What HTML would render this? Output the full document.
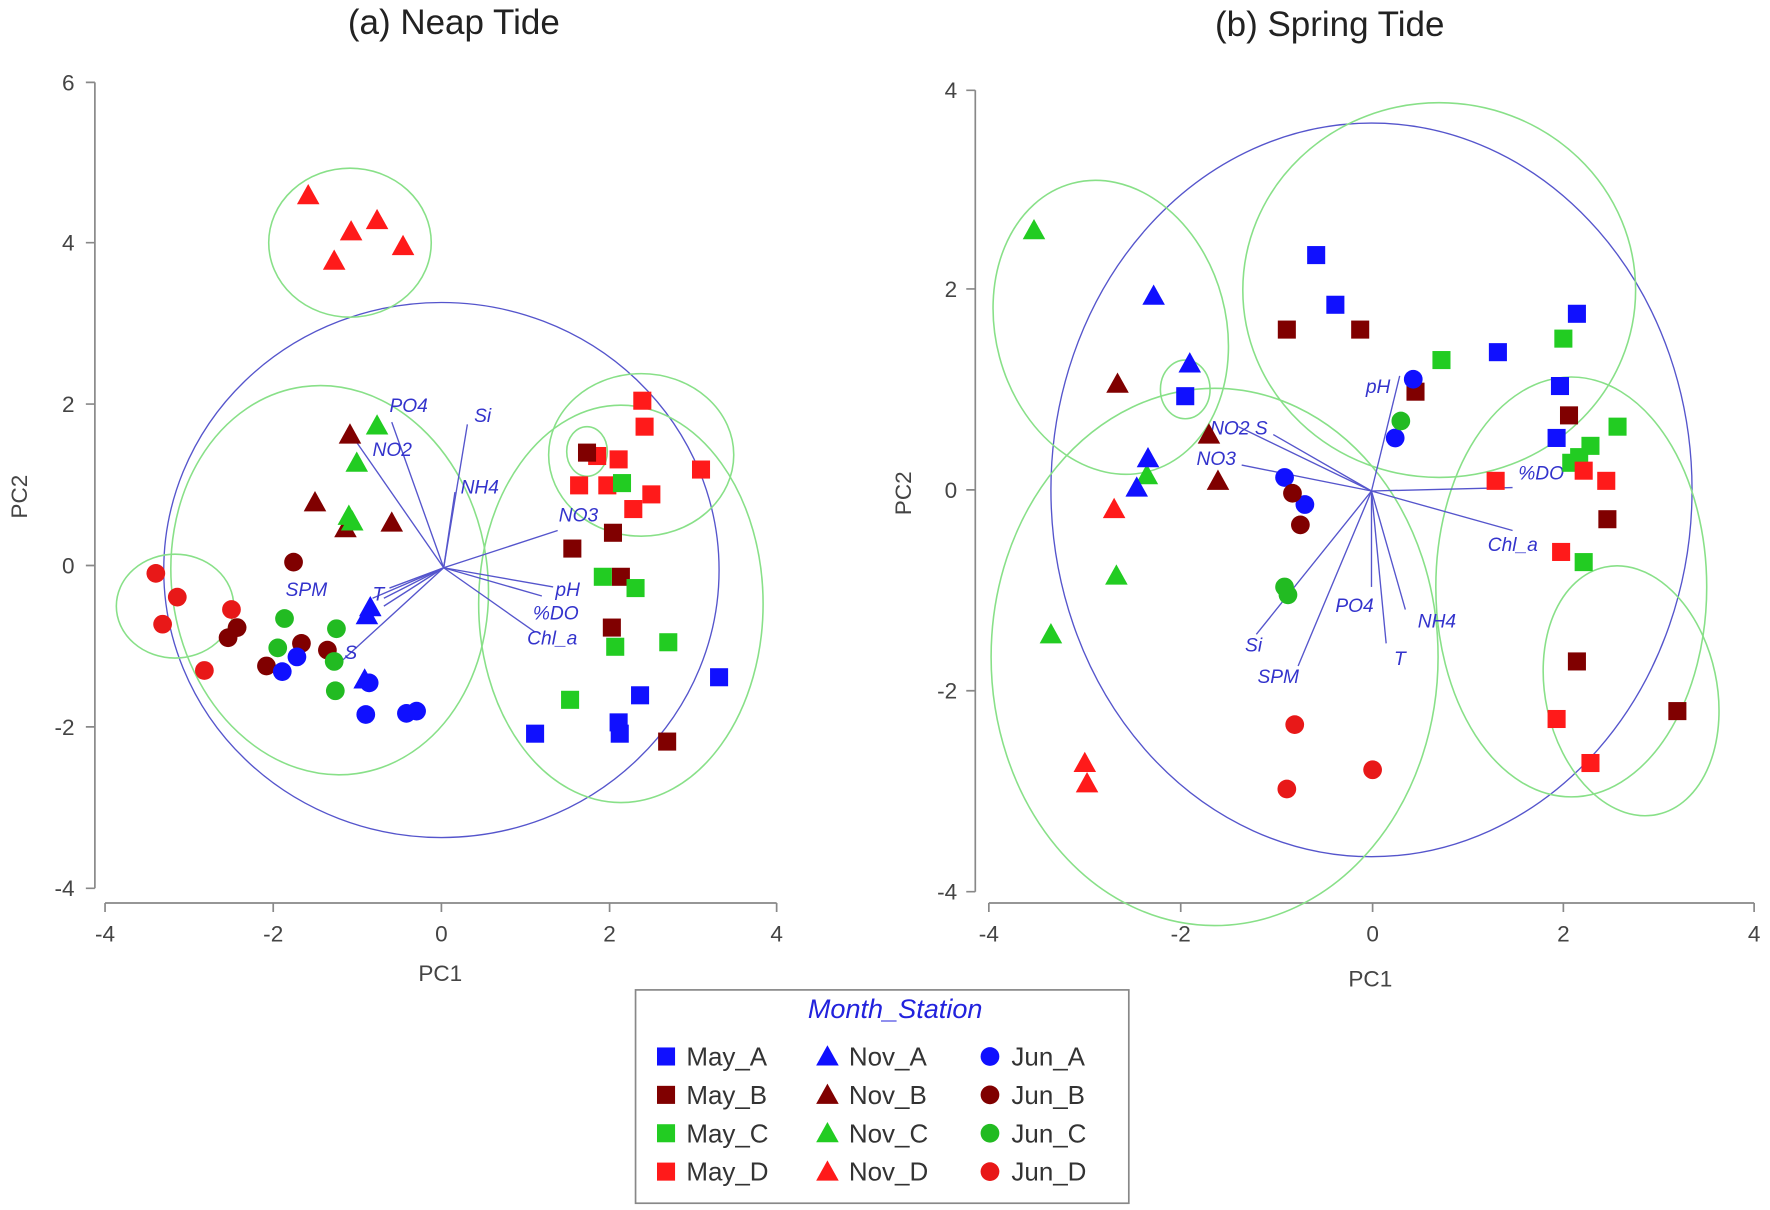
<!DOCTYPE html>
<html><head><meta charset="utf-8"><style>
html,body{margin:0;padding:0;background:#fff;width:1770px;height:1210px;overflow:hidden}
svg{display:block}
text{font-family:"Liberation Sans",sans-serif}
.t{font-size:20px;fill:#444}
.v{font-size:17px;fill:#3333cc;font-style:italic}
.g{fill:none;stroke:#88e088;stroke-width:1.4}
.b{fill:none;stroke:#5555cc;stroke-width:1.2}
.ar{stroke:#5555cc;stroke-width:1.2}
.ax{stroke:#888;stroke-width:1.5;fill:none}
</style></head><body>
<svg width="1770" height="1210" viewBox="0 0 1568 1072" xmlns="http://www.w3.org/2000/svg">
<defs>
<g id="sq"><rect x="-8" y="-8" width="16" height="16"/></g>
<g id="ci"><circle r="8.3"/></g>
<g id="tr"><polygon points="0,-10 10,8 -10,8"/></g>
</defs>
<!-- titles -->
<text x="402" y="30" font-size="31" text-anchor="middle" fill="#222">(a) Neap Tide</text>
<text x="1178" y="32" font-size="31" text-anchor="middle" fill="#222">(b) Spring Tide</text>

<!-- Panel a axes -->
<path class="ax" d="M84,73V787 M76,73H84 M76,215H84 M76,358H84 M76,501H84 M76,644H84 M76,787H84"/>
<g class="t" text-anchor="end"><text x="66" y="80">6</text><text x="66" y="222">4</text><text x="66" y="365">2</text><text x="66" y="508">0</text><text x="66" y="651">-2</text><text x="66" y="794">-4</text></g>
<path class="ax" d="M93,800H688 M93,800V808 M242,800V808 M391,800V808 M540,800V808 M688,800V808"/>
<g class="t" text-anchor="middle"><text x="93" y="834">-4</text><text x="242" y="834">-2</text><text x="391" y="834">0</text><text x="540" y="834">2</text><text x="688" y="834">4</text></g>
<text class="t" x="390" y="869" text-anchor="middle">PC1</text>
<text class="t" x="24" y="440" text-anchor="middle" transform="rotate(-90 24 440)">PC2</text>

<!-- Panel a ellipses -->
<ellipse class="b" cx="391" cy="505" rx="246" ry="237"/>
<ellipse class="g" cx="310" cy="215" rx="72" ry="66"/>
<ellipse class="g" cx="155" cy="537" rx="52" ry="46"/>
<ellipse class="g" cx="292" cy="514" rx="140" ry="173" transform="rotate(-8 292 514)"/>
<ellipse class="g" cx="550" cy="535" rx="126" ry="176"/>
<ellipse class="g" cx="568" cy="403" rx="82" ry="72"/>
<ellipse class="g" cx="520" cy="400" rx="18" ry="22"/>

<!-- Panel a vectors -->
<g class="ar">
<line x1="393" y1="503" x2="347" y2="374"/><line x1="393" y1="503" x2="414" y2="376"/>
<line x1="393" y1="503" x2="316" y2="392"/><line x1="393" y1="503" x2="403" y2="436"/>
<line x1="393" y1="503" x2="494" y2="470"/><line x1="393" y1="503" x2="490" y2="520"/>
<line x1="393" y1="503" x2="480" y2="528"/><line x1="393" y1="503" x2="474" y2="560"/>
<line x1="393" y1="503" x2="345" y2="521"/><line x1="393" y1="503" x2="330" y2="530"/>
<line x1="393" y1="503" x2="340" y2="530"/><line x1="393" y1="503" x2="340" y2="537"/>
<line x1="393" y1="503" x2="300" y2="588"/>
</g>
<g class="v">
<text x="345" y="365">PO4</text><text x="420" y="374">Si</text><text x="330" y="404">NO2</text>
<text x="408" y="437">NH4</text><text x="495" y="462">NO3</text><text x="492" y="528">pH</text>
<text x="472" y="549">%DO</text><text x="467" y="571">Chl_a</text><text x="253" y="528">SPM</text>
<text x="330" y="532">T</text><text x="305" y="584">S</text>
</g>

<!-- Panel a points -->
<g fill="#ff1a1a"><use href="#tr" x="273" y="173"/><use href="#tr" x="311" y="205"/><use href="#tr" x="334" y="195"/><use href="#tr" x="357" y="218"/><use href="#tr" x="296" y="231"/></g>
<g fill="#800000"><use href="#tr" x="310" y="385"/><use href="#tr" x="279" y="445"/><use href="#tr" x="306" y="468"/><use href="#tr" x="347" y="463"/></g>
<g fill="#22cc22"><use href="#tr" x="334" y="377"/><use href="#tr" x="316" y="410"/><use href="#tr" x="309" y="457"/><use href="#tr" x="312" y="462"/></g>
<g fill="#1010ff"><use href="#tr" x="325" y="545"/><use href="#tr" x="328" y="538"/><use href="#tr" x="323" y="602"/></g>
<g fill="#800000"><use href="#ci" x="260" y="498"/><use href="#ci" x="210" y="556"/><use href="#ci" x="202" y="565"/><use href="#ci" x="236" y="590"/><use href="#ci" x="267" y="570"/><use href="#ci" x="290" y="576"/></g>
<g fill="#e81818"><use href="#ci" x="138" y="508"/><use href="#ci" x="157" y="529"/><use href="#ci" x="144" y="553"/><use href="#ci" x="205" y="540"/><use href="#ci" x="181" y="594"/></g>
<g fill="#1010ff"><use href="#ci" x="263" y="582"/><use href="#ci" x="250" y="595"/><use href="#ci" x="327" y="605"/><use href="#ci" x="324" y="633"/><use href="#ci" x="360" y="632"/><use href="#ci" x="369" y="630"/></g>
<g fill="#22bb22"><use href="#ci" x="252" y="548"/><use href="#ci" x="246" y="574"/><use href="#ci" x="296" y="586"/><use href="#ci" x="297" y="612"/><use href="#ci" x="298" y="557"/></g>
<g fill="#ff1a1a"><use href="#sq" x="569" y="355"/><use href="#sq" x="571" y="378"/><use href="#sq" x="529" y="404"/><use href="#sq" x="548" y="407"/><use href="#sq" x="513" y="430"/><use href="#sq" x="538" y="430"/><use href="#sq" x="577" y="438"/><use href="#sq" x="561" y="451"/><use href="#sq" x="621" y="416"/></g>
<g fill="#800000"><use href="#sq" x="520" y="401"/><use href="#sq" x="543" y="472"/><use href="#sq" x="507" y="486"/><use href="#sq" x="550" y="511"/><use href="#sq" x="542" y="556"/><use href="#sq" x="591" y="657"/></g>
<g fill="#22cc22"><use href="#sq" x="551" y="428"/><use href="#sq" x="534" y="511"/><use href="#sq" x="563" y="521"/><use href="#sq" x="592" y="569"/><use href="#sq" x="545" y="573"/><use href="#sq" x="505" y="620"/></g>
<g fill="#1010ff"><use href="#sq" x="474" y="650"/><use href="#sq" x="567" y="616"/><use href="#sq" x="548" y="640"/><use href="#sq" x="549" y="650"/><use href="#sq" x="637" y="600"/></g>

<!-- Panel b axes -->
<path class="ax" d="M864,80V790 M856,80H864 M856,256H864 M856,434H864 M856,612H864 M856,790H864"/>
<g class="t" text-anchor="end"><text x="848" y="87">4</text><text x="848" y="263">2</text><text x="848" y="441">0</text><text x="848" y="619">-2</text><text x="848" y="797">-4</text></g>
<path class="ax" d="M876,800H1554 M876,800V808 M1046,800V808 M1216,800V808 M1385,800V808 M1554,800V808"/>
<g class="t" text-anchor="middle"><text x="876" y="834">-4</text><text x="1046" y="834">-2</text><text x="1216" y="834">0</text><text x="1385" y="834">2</text><text x="1554" y="834">4</text></g>
<text class="t" x="1214" y="874" text-anchor="middle">PC1</text>
<text class="t" x="807" y="437" text-anchor="middle" transform="rotate(-90 807 437)">PC2</text>

<!-- Panel b ellipses -->
<ellipse class="b" cx="1215" cy="434" rx="284" ry="325"/>
<ellipse class="g" cx="984" cy="290" rx="102" ry="132" transform="rotate(-15 984 290)"/>
<ellipse class="g" cx="1076" cy="582" rx="198" ry="238"/>
<ellipse class="g" cx="1275" cy="257" rx="174" ry="166"/>
<ellipse class="g" cx="1392" cy="520" rx="120" ry="186"/>
<ellipse class="g" cx="1445" cy="612" rx="76" ry="112" transform="rotate(-12 1445 612)"/>
<ellipse class="g" cx="1050" cy="345" rx="22" ry="26"/>

<!-- Panel b vectors -->
<g class="ar">
<line x1="1215" y1="435" x2="1240" y2="333"/><line x1="1215" y1="435" x2="1097" y2="378"/>
<line x1="1215" y1="435" x2="1128" y2="385"/><line x1="1215" y1="435" x2="1100" y2="412"/>
<line x1="1215" y1="435" x2="1340" y2="432"/><line x1="1215" y1="435" x2="1340" y2="470"/>
<line x1="1215" y1="435" x2="1215" y2="520"/><line x1="1215" y1="435" x2="1245" y2="540"/>
<line x1="1215" y1="435" x2="1228" y2="570"/><line x1="1215" y1="435" x2="1113" y2="562"/>
<line x1="1215" y1="435" x2="1150" y2="590"/>
</g>
<g class="v">
<text x="1210" y="348">pH</text><text x="1072" y="385">NO2 S</text><text x="1060" y="412">NO3</text>
<text x="1345" y="425">%DO</text><text x="1318" y="488">Chl_a</text><text x="1183" y="542">PO4</text>
<text x="1256" y="556">NH4</text><text x="1235" y="589">T</text><text x="1103" y="577">Si</text>
<text x="1114" y="605">SPM</text>
</g>

<!-- Panel b points -->
<g fill="#22cc22"><use href="#tr" x="916" y="204"/><use href="#tr" x="931" y="562"/><use href="#tr" x="989" y="510"/><use href="#tr" x="1016" y="421"/></g>
<g fill="#1010ff"><use href="#tr" x="1022" y="262"/><use href="#tr" x="1054" y="322"/><use href="#tr" x="1017" y="406"/><use href="#tr" x="1007" y="432"/></g>
<g fill="#800000"><use href="#tr" x="990" y="340"/><use href="#tr" x="1071" y="385"/><use href="#tr" x="1079" y="426"/></g>
<g fill="#ff1a1a"><use href="#tr" x="987" y="451"/><use href="#tr" x="961" y="676"/><use href="#tr" x="963" y="694"/></g>
<g fill="#1010ff"><use href="#sq" x="1166" y="226"/><use href="#sq" x="1183" y="270"/><use href="#sq" x="1050" y="351"/><use href="#sq" x="1327" y="312"/><use href="#sq" x="1397" y="278"/><use href="#sq" x="1382" y="342"/><use href="#sq" x="1379" y="388"/></g>
<g fill="#800000"><use href="#sq" x="1140" y="292"/><use href="#sq" x="1205" y="292"/><use href="#sq" x="1254" y="347"/><use href="#sq" x="1390" y="368"/><use href="#sq" x="1424" y="460"/><use href="#sq" x="1397" y="586"/><use href="#sq" x="1486" y="630"/></g>
<g fill="#22cc22"><use href="#sq" x="1277" y="319"/><use href="#sq" x="1385" y="300"/><use href="#sq" x="1433" y="378"/><use href="#sq" x="1409" y="395"/><use href="#sq" x="1399" y="405"/><use href="#sq" x="1403" y="498"/><use href="#sq" x="1392" y="410"/></g>
<g fill="#ff1a1a"><use href="#sq" x="1325" y="426"/><use href="#sq" x="1403" y="417"/><use href="#sq" x="1423" y="426"/><use href="#sq" x="1383" y="489"/><use href="#sq" x="1379" y="637"/><use href="#sq" x="1409" y="676"/></g>
<g fill="#1010ff"><use href="#ci" x="1252" y="336"/><use href="#ci" x="1236" y="388"/><use href="#ci" x="1138" y="423"/><use href="#ci" x="1156" y="447"/></g>
<g fill="#22bb22"><use href="#ci" x="1241" y="373"/><use href="#ci" x="1138" y="520"/><use href="#ci" x="1141" y="527"/></g>
<g fill="#800000"><use href="#ci" x="1145" y="437"/><use href="#ci" x="1152" y="465"/></g>
<g fill="#e81818"><use href="#ci" x="1147" y="642"/><use href="#ci" x="1216" y="682"/><use href="#ci" x="1140" y="699"/></g>

<!-- Legend -->
<rect x="563" y="877" width="437" height="189" fill="#fff" stroke="#888" stroke-width="1.5"/>
<text x="793" y="902" font-size="24" font-style="italic" fill="#2222dd" text-anchor="middle">Month_Station</text>
<g font-size="23" fill="#333">
<use href="#sq" x="590" y="936" fill="#1010ff"/><text x="608" y="944">May_A</text>
<use href="#sq" x="590" y="970" fill="#800000"/><text x="608" y="978">May_B</text>
<use href="#sq" x="590" y="1004" fill="#22cc22"/><text x="608" y="1012">May_C</text>
<use href="#sq" x="590" y="1038" fill="#ff1a1a"/><text x="608" y="1046">May_D</text>
<use href="#tr" x="733" y="936" fill="#1010ff"/><text x="752" y="944">Nov_A</text>
<use href="#tr" x="733" y="970" fill="#800000"/><text x="752" y="978">Nov_B</text>
<use href="#tr" x="733" y="1004" fill="#22cc22"/><text x="752" y="1012">Nov_C</text>
<use href="#tr" x="733" y="1038" fill="#ff1a1a"/><text x="752" y="1046">Nov_D</text>
<use href="#ci" x="877" y="936" fill="#1010ff"/><text x="896" y="944">Jun_A</text>
<use href="#ci" x="877" y="970" fill="#800000"/><text x="896" y="978">Jun_B</text>
<use href="#ci" x="877" y="1004" fill="#22bb22"/><text x="896" y="1012">Jun_C</text>
<use href="#ci" x="877" y="1038" fill="#e81818"/><text x="896" y="1046">Jun_D</text>
</g>
</svg>
</body></html>
